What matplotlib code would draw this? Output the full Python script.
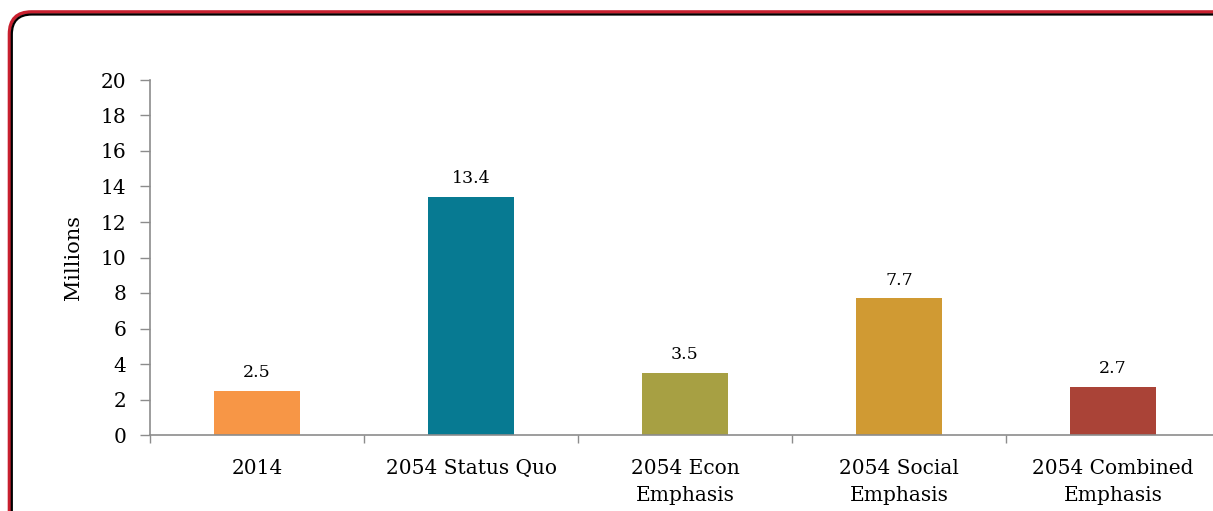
import matplotlib
matplotlib.use('Agg')
import matplotlib.pyplot as plt
from matplotlib.patches import FancyBboxPatch
from matplotlib.transforms import IdentityTransform

categories = ['2014', '2054 Status Quo', '2054 Econ\nEmphasis', '2054 Social\nEmphasis', '2054 Combined\nEmphasis']
values = [2.5, 13.4, 3.5, 7.7, 2.7]
bar_colors = ['#F79646', '#077A92', '#A7A043', '#D09A33', '#AA4337']
yticks = list(range(0, 21, 2))

plt.rcParams['font.family'] = ['DejaVu Serif']

fig = plt.figure(figsize=(12.13, 5.11), dpi=100)

# rounded frame (red outside, black inner line), running off the right and bottom edges
frame_red = FancyBboxPatch((9.5, -40), 1240, 539, boxstyle='round,pad=0,rounding_size=22',
                           transform=IdentityTransform(), facecolor='none',
                           edgecolor='#C8202F', linewidth=2.6, clip_on=False)
frame_black = FancyBboxPatch((11.8, -40), 1240, 536.5, boxstyle='round,pad=0,rounding_size=20',
                             transform=IdentityTransform(), facecolor='none',
                             edgecolor='black', linewidth=1.6, clip_on=False)
fig.patches.extend([frame_red, frame_black])

ax = fig.add_axes([150 / 1213, 1 - 435 / 511, 1070 / 1213, 355 / 511])
x = range(len(categories))
ax.bar(x, values, width=0.4, color=bar_colors)

for xi, v in zip(x, values):
    ax.text(xi, v + 0.55, f'{v}', ha='center', va='bottom', fontsize=12.5)

ax.set_xlim(-0.5, len(categories) - 0.5)
ax.set_ylim(0, 20)
ax.set_yticks(yticks)
ax.set_yticklabels([str(t) for t in yticks], fontsize=14.5)
ax.set_xticks(x)
ax.set_xticklabels(categories, fontsize=14.5, linespacing=1.55)
ax.tick_params(axis='x', length=0, pad=17)
ax.tick_params(axis='y', length=7, color='#8C8C8C', width=1, pad=10)

# category separators below the x axis
ax.set_xticks([i - 0.5 for i in range(len(categories) + 1)], minor=True)
ax.tick_params(axis='x', which='minor', length=6, color='#8C8C8C', width=1)

for side in ['top', 'right']:
    ax.spines[side].set_visible(False)
for side in ['left', 'bottom']:
    ax.spines[side].set_color('#8C8C8C')
    ax.spines[side].set_linewidth(1.2)
ax.spines['bottom'].set_bounds(-0.5, len(categories) - 0.5)

ax.set_ylabel('Millions', fontsize=15, labelpad=13)

fig.savefig('out.png', dpi=100)
